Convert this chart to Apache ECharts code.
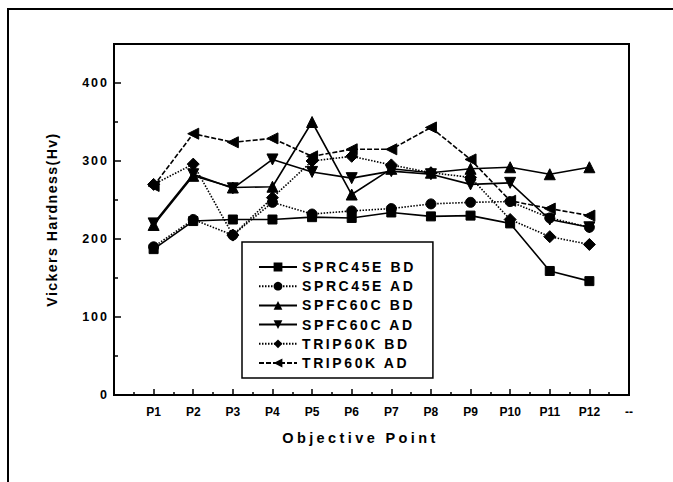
<!DOCTYPE html>
<html>
<head>
<meta charset="utf-8">
<script src="https://cdn.jsdelivr.net/npm/echarts@6/dist/echarts.min.js"></script>
<style>
html,body{margin:0;padding:0;background:#fff;overflow:hidden;}
#wrap{position:relative;width:673px;height:482px;overflow:hidden;}
#c{width:673px;height:482px;}
#frame{position:absolute;left:7px;top:8px;width:700px;height:500px;border-left:2.5px solid #000;border-top:2.5px solid #000;pointer-events:none;}
text[style*="14px"]{letter-spacing:2.6px !important;}
text[style*="14.5px"]{letter-spacing:3.4px !important;}
text[style*="14.2px"]{letter-spacing:1.4px !important;}
text[style*="12.5px"]{letter-spacing:2px !important;}
</style>
</head>
<body>
<div id="wrap"><div id="c"></div><div id="frame"></div></div>
<script>
// ---- data ----
var categories = ['P1','P2','P3','P4','P5','P6','P7','P8','P9','P10','P11','P12'];
var xTickLabels = ['', 'P1','P2','P3','P4','P5','P6','P7','P8','P9','P10','P11','P12','--'];
var seriesNames = ['SPRC45E BD','SPRC45E AD','SPFC60C BD','SPFC60C AD','TRIP60K BD','TRIP60K AD'];
var sprc45eBD = [187, 223, 225, 225, 228, 227, 234, 229, 230, 220, 159, 146];
var sprc45eAD = [190, 225, 205, 247, 232, 236, 239, 245, 247, 248, 227, 215];
var spfc60cBD = [218, 281, 266, 267, 350, 257, 290, 285, 290, 292, 283, 292];
var spfc60cAD = [220, 283, 265, 302, 286, 278, 287, 283, 270, 272, 225, 215];
var trip60kBD = [270, 296, 205, 253, 300, 306, 295, 285, 279, 225, 203, 193];
var trip60kAD = [268, 335, 324, 329, 306, 315, 315, 343, 302, 249, 239, 230];
var yTicks = [0, 100, 200, 300, 400];

var allValues = [sprc45eBD, sprc45eAD, spfc60cBD, spfc60cAD, trip60kBD, trip60kAD];
var symbols = ['rect','circle','triangle','triangle','diamond','triangle'];
var rotations = [0, 0, 0, 180, 0, 90];
var sizes = [9, 10, 11, 11, 12, 11];
var lineTypes = ['solid', [1.5,1.5], 'solid', 'solid', [1.5,1.5], [5,2]];

function toPoints(vals){
  return vals.map(function(v, i){ return [xTickLabels.indexOf(categories[i]), v]; });
}

var series = seriesNames.map(function(name, k){
  return {
    name: name,
    type: 'line',
    data: toPoints(allValues[k]),
    symbol: symbols[k],
    symbolRotate: rotations[k],
    symbolSize: sizes[k],
    showAllSymbol: true,
    lineStyle: { color: '#000', width: 1.6, type: lineTypes[k] },
    itemStyle: { color: '#000', borderColor: '#000' },
    emphasis: { disabled: true },
    animation: false
  };
});

var chart = echarts.init(document.getElementById('c'), null, { renderer: 'svg', width: 673, height: 482 });
chart.setOption({
  backgroundColor: '#fff',
  animation: false,
  grid: {
    left: 114, top: 44, right: 44, bottom: 87,
    show: true, borderColor: '#000', borderWidth: 2, backgroundColor: 'transparent'
  },
  legend: {
    orient: 'vertical',
    left: 242, top: 242,
    data: seriesNames,
    backgroundColor: '#fff',
    borderColor: '#000',
    borderWidth: 1.5,
    borderRadius: 0,
    padding: [18, 43, 8, 16],
    itemWidth: 38,
    itemHeight: 11,
    itemGap: 5.2,
    textStyle: { fontFamily: 'Arial', fontWeight: 'bold', fontSize: 14, color: '#000', lineHeight: 14 },
    selectedMode: false
  },
  xAxis: {
    type: 'value',
    min: 0, max: xTickLabels.length - 1, interval: 1,
    axisLine: { show: true, lineStyle: { color: '#000', width: 2 } },
    axisTick: { show: true, inside: true, length: 6, lineStyle: { color: '#000', width: 1.5 } },
    minorTick: { show: true, splitNumber: 2, length: 3, lineStyle: { color: '#000', width: 1.5 } },
    splitLine: { show: false },
    axisLabel: {
      margin: 11,
      fontFamily: 'Arial', fontWeight: 'bold', fontSize: 12, color: '#000',
      formatter: function(v){ return xTickLabels[Math.round(v)] || ''; },
      showMinLabel: true, showMaxLabel: true
    },
    name: 'Objective Point',
    nameLocation: 'middle',
    nameGap: 35,
    nameTextStyle: { fontFamily: 'Arial', fontWeight: 'bold', fontSize: 14.5, color: '#000', padding: [0, 22, 0, 0] }
  },
  yAxis: {
    type: 'value',
    min: 0, max: 450, interval: 100,
    axisLine: { show: true, lineStyle: { color: '#000', width: 2 } },
    axisTick: { show: true, inside: true, length: 7, lineStyle: { color: '#000', width: 1.5 } },
    minorTick: { show: true, splitNumber: 2, length: 4, lineStyle: { color: '#000', width: 1.5 } },
    splitLine: { show: false },
    axisLabel: {
      margin: 5,
      fontFamily: 'Arial', fontWeight: 'bold', fontSize: 12.5, color: '#000',
      formatter: function(v){ return yTicks.indexOf(v) >= 0 ? String(v) : ''; }
    },
    name: 'Vickers Hardness(Hv)',
    nameLocation: 'middle',
    nameGap: 55,
    nameTextStyle: { fontFamily: 'Arial', fontWeight: 'bold', fontSize: 14.2, color: '#000' }
  },
  series: series
});
</script>
</body>
</html>
